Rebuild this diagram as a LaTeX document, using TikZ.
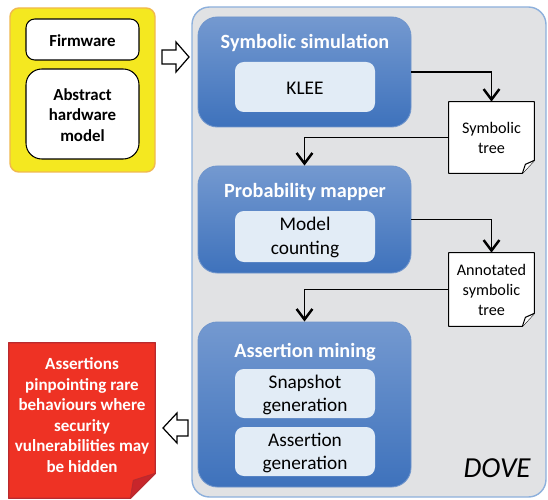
\documentclass[tikz,border=0pt]{standalone}
\usepackage{fontspec}
\setmainfont{Carlito}
\usetikzlibrary{fit,arrows.meta,calc}
\definecolor{yel}{HTML}{F4E820}
\definecolor{yelb}{HTML}{F0B94E}
\definecolor{doveg}{HTML}{E1E2E4}
\definecolor{doveb}{HTML}{8DB0DC}
\definecolor{bluetop}{HTML}{7499D0}
\definecolor{bluebot}{HTML}{3E72BC}
\definecolor{bluebd}{HTML}{6F95CC}
\definecolor{innerf}{HTML}{E2ECF6}
\definecolor{redf}{HTML}{EE3224}
\definecolor{redb}{HTML}{B92A2E}
\definecolor{redflap}{HTML}{C8262B}
\begin{document}
\begin{tikzpicture}[x=0.02cm,y=-0.02cm,
  box/.style={inner sep=0pt},
  whitebox/.style={box,fill=white,draw=black,line width=0.6pt},
  bluebox/.style={box,top color=bluetop,bottom color=bluebot,draw=bluebd,line width=0.5pt,rounded corners=11pt},
  innerbox/.style={box,fill=innerf,rounded corners=5pt},
  innertext/.style={font=\fontsize{11}{13.4}\selectfont,align=center,inner sep=0pt},
  titletext/.style={font=\fontsize{11.5}{14}\selectfont\bfseries,text=white,inner sep=0pt},
  inputtext/.style={font=\fontsize{9.6}{11.6}\selectfont\bfseries,align=center,inner sep=0pt},
  doctext/.style={font=\fontsize{9.2}{11.4}\selectfont,align=center,inner sep=0pt},
  redtext/.style={font=\fontsize{9.7}{11.7}\selectfont\bfseries,align=center,text=white,inner sep=0pt},
  docshape/.style={fill=white,draw=black,line width=0.6pt,line join=round},
  flow/.style={line width=0.8pt,-{Straight Barb[length=6pt,width=9pt,line width=1.4pt]}},
  blockarrow/.style={fill=white,draw=black,line width=0.7pt,line join=miter}
]
\useasboundingbox (0,0) rectangle (548,500);

% input box
\node[box,fit={(10,8)(155,172)},fill=yel,draw=yelb,line width=0.8pt,rounded corners=5pt] (input) {};
\node[whitebox,fit={(26,19)(139,60)},rounded corners=5pt] (fw) {};
\node[inputtext] (fwt) at (82.5,41) {Firmware};
\node[whitebox,fit={(26,69)(139,159)},rounded corners=9pt] (ahm) {};
\node[inputtext] (ahmt) at (82.5,115) {Abstract\\hardware\\model};

% DOVE container
\node[box,fit={(192,7)(546,497)},fill=doveg,draw=doveb,line width=0.8pt,rounded corners=10pt] (dove) {};
\node[font=\fontsize{16.5}{20}\selectfont\itshape,anchor=base east,inner sep=0pt] (dovelbl) at (531,477) {DOVE};

% block arrows
\draw[blockarrow] (162,50) -- (176,50) -- (176,42) -- (189,57) -- (176,72) -- (176,64) -- (162,64) -- cycle;
\draw[blockarrow] (188,420) -- (177,420) -- (177,413) -- (163,428) -- (177,443) -- (177,436) -- (188,436) -- cycle;

% Symbolic simulation
\node[bluebox,fit={(198,17)(411,127)}] (sim) {};
\node[titletext] (simt) at (305,43) {Symbolic simulation};
\node[innerbox,fit={(235,62)(375,112)}] (klee) {};
\node[innertext] (kleet) at (305,88) {KLEE};

% Probability mapper
\node[bluebox,fit={(198,166)(411,273)}] (prob) {};
\node[titletext] (probt) at (305,192) {Probability mapper};
\node[innerbox,fit={(235,211)(375,262)}] (mc) {};
\node[innertext] (mct) at (305,237.5) {Model\\counting};

% Assertion mining
\node[bluebox,fit={(198,322)(411,487)}] (mine) {};
\node[titletext] (minet) at (305,352) {Assertion mining};
\node[innerbox,fit={(235,369)(375,418)}] (snap) {};
\node[innertext] (snapt) at (305,395) {Snapshot\\generation};
\node[innerbox,fit={(235,427)(375,476)}] (agen) {};
\node[innertext] (agent) at (305,453) {Assertion\\generation};

% documents
\node[box,fit={(449,102)(534,173)}] (d1) {};
\draw[docshape] (d1.north west) -- (d1.north east) -- ([yshift=0.26cm]d1.south east) -- ([xshift=-0.24cm]d1.south east) -- (d1.south west) -- cycle;
\draw[docshape] ([xshift=-0.24cm]d1.south east) -- ([xshift=-0.18cm,yshift=0.18cm]d1.south east) -- ([yshift=0.26cm]d1.south east);
\node[doctext] (d1t) at (491.5,137.5) {Symbolic\\tree};

\node[box,fit={(449,253)(534,326)}] (d2) {};
\draw[docshape] (d2.north west) -- (d2.north east) -- ([yshift=0.26cm]d2.south east) -- ([xshift=-0.24cm]d2.south east) -- (d2.south west) -- cycle;
\draw[docshape] ([xshift=-0.24cm]d2.south east) -- ([xshift=-0.18cm,yshift=0.18cm]d2.south east) -- ([yshift=0.26cm]d2.south east);
\node[doctext] (d2t) at (491.5,290) {Annotated\\symbolic\\tree};

% output (red)
\node[box,fit={(9,343)(155,498)}] (out) {};
\fill[redf] (out.north west) -- (out.north east) -- ([yshift=0.5cm]out.south east) -- ([xshift=-0.5cm]out.south east) -- (out.south west) -- cycle;
\draw[redb,line width=0.7pt,line join=round] (out.north west) -- (out.north east) -- ([yshift=0.5cm]out.south east) -- ([xshift=-0.5cm]out.south east) -- (out.south west) -- cycle;
\filldraw[fill=redflap,draw=redb,line width=0.6pt,line join=round] ([xshift=-0.5cm]out.south east) -- ([xshift=-0.44cm,yshift=0.36cm]out.south east) -- ([yshift=0.5cm]out.south east) -- cycle;
\node[redtext] (outt) at (82,415) {Assertions\\pinpointing rare\\behaviours where\\security\\vulnerabilities may\\be hidden};

% connectors
\draw[flow] (sim.east) -| (d1.north);
\draw[flow] (d1.west) -| (prob.north);
\draw[flow] (prob.east) -| (d2.north);
\draw[flow] (d2.west) -| (mine.north);
\end{tikzpicture}
\end{document}
